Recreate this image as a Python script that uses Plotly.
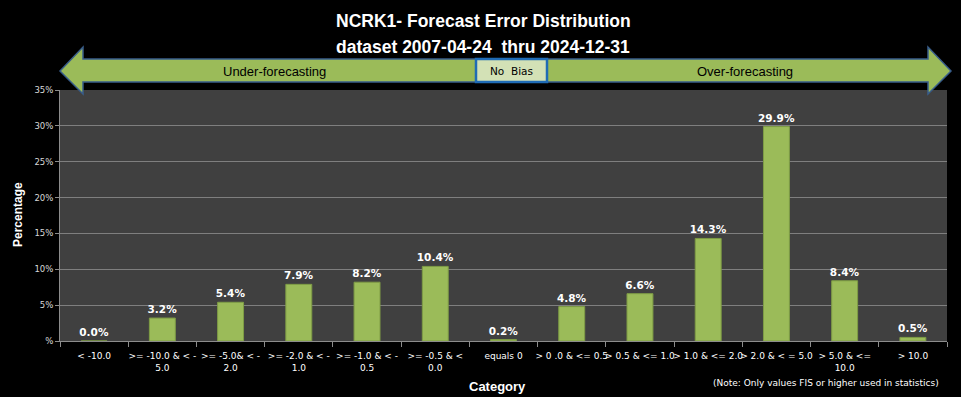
import plotly.graph_objects as go

categories = ["< -10.0", ">= -10.0 & < -<br>5.0", ">= -5.0& < -<br>2.0", ">= -2.0 & < -<br>1.0",
              ">= -1.0 & < -<br>0.5", ">= -0.5 & <<br>0.0", "equals 0", "> 0 .0 & <= 0.5",
              "> 0.5 & <= 1.0", "> 1.0 & <= 2.0", "> 2.0 & < = 5.0", "> 5.0 & <=<br>10.0", "> 10.0"]
values = [0.0, 3.2, 5.4, 7.9, 8.2, 10.4, 0.2, 4.8, 6.6, 14.3, 29.9, 8.4, 0.5]
labels = [f"<b>{v:.1f}%</b>" for v in values]
y_ticks = [0, 5, 10, 15, 20, 25, 30, 35]
y_tick_text = ["%", "5%", "10%", "15%", "20%", "25%", "30%", "35%"]

W, H = 961, 397
L, R, T, B = 60, 947, 90, 341

def px(x):
    return (x - L) / (R - L)

def py(y):
    return (B - y) / (B - T)

fig = go.Figure()
fig.add_trace(go.Bar(
    x=categories, y=values, text=labels, textposition="outside", constraintext="none",
    textfont=dict(color="white", size=10.5, family="DejaVu Sans"),
    marker=dict(color="#9bbb59", line=dict(color="#7e9c45", width=1)),
    cliponaxis=False,
))

left_arrow = (f"M {px(60)} {py(71)} L {px(83)} {py(47)} L {px(83)} {py(59)} L {px(476)} {py(59)} "
              f"L {px(476)} {py(82)} L {px(83)} {py(82)} L {px(83)} {py(94)} Z")
right_arrow = (f"M {px(951)} {py(71)} L {px(928)} {py(47)} L {px(928)} {py(59)} L {px(547)} {py(59)} "
               f"L {px(547)} {py(82)} L {px(928)} {py(82)} L {px(928)} {py(94)} Z")
shapes = [
    dict(type="path", xref="paper", yref="paper", path=left_arrow,
         fillcolor="#9bbb59", line=dict(color="#385d8a", width=1.5), layer="above"),
    dict(type="path", xref="paper", yref="paper", path=right_arrow,
         fillcolor="#9bbb59", line=dict(color="#385d8a", width=1.5), layer="above"),
    dict(type="rect", xref="paper", yref="paper", x0=px(476), x1=px(547), y0=py(82), y1=py(59),
         fillcolor="#d3e1b6", line=dict(color="#1f6bb5", width=2.5), layer="above"),
]

font_title = "Liberation Sans, Arial"

def ann(text, x, y, size, color, family, **kw):
    return dict(text=text, x=px(x), y=py(y), xref="paper", yref="paper", showarrow=False,
                xanchor="center", yanchor="middle",
                font=dict(size=size, color=color, family=family), **kw)

annotations = [
    ann("<b>NCRK1- Forecast Error Distribution</b>", 483, 21, 17.5, "white", font_title),
    ann("<b>dataset 2007-04-24  thru 2024-12-31</b>", 483, 47, 17.5, "white", font_title),
    ann("Under-forecasting", 274, 71, 13, "black", font_title),
    ann("Over-forecasting", 745, 71, 13, "black", font_title),
    ann("No  Bias", 511, 71, 10.5, "black", "DejaVu Sans"),
    ann("<b>Category</b>", 497, 386, 13, "white", font_title),
    ann("(Note: Only values FIS or higher used in statistics)", 826, 383, 9, "white", "DejaVu Sans"),
    ann("<b>Percentage</b>", 18, 215, 12, "white", font_title, textangle=-90),
]

fig.update_layout(
    width=W, height=H,
    margin=dict(l=L, r=W - R, t=T, b=H - B),
    paper_bgcolor="black", plot_bgcolor="#404040",
    showlegend=False, bargap=0.62,
    shapes=shapes, annotations=annotations,
    xaxis=dict(type="category", showgrid=False, showline=True, linecolor="#8c8c8c",
               ticks="outside", tickson="boundaries", tickcolor="#8c8c8c", ticklen=5,
               ticklabelstandoff=6,
               tickfont=dict(size=9, color="white", family="DejaVu Sans"), tickangle=0),
    yaxis=dict(range=[0, 35], tickvals=y_ticks, ticktext=y_tick_text, showgrid=True,
               gridcolor="#7f7f7f", gridwidth=1, zeroline=False, showline=True, linecolor="#8c8c8c",
               ticks="outside", tickcolor="#8c8c8c", ticklen=4,
               tickfont=dict(size=8.5, color="#d9d9d9", family="DejaVu Sans")),
)

fig.write_html("out.html", config={"displayModeBar": False},
               post_script="document.body.style.margin='0';")
